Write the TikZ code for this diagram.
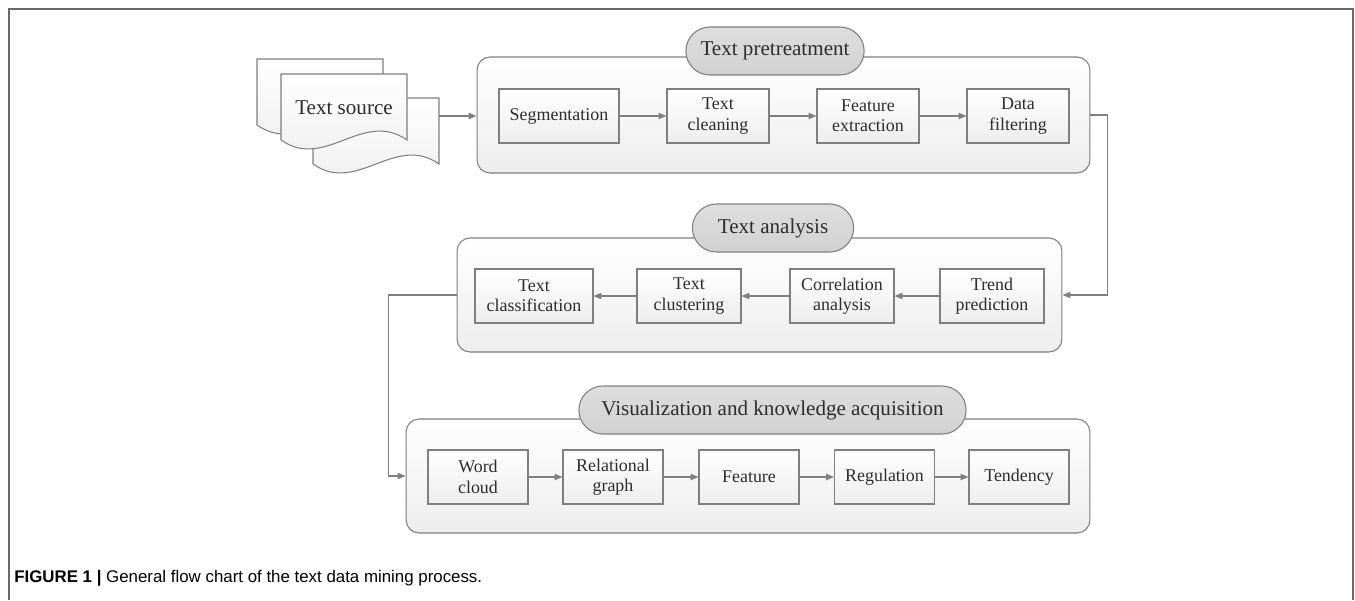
\documentclass[tikz,border=0pt]{standalone}
\usepackage{fontspec}
\setmainfont{Liberation Serif}
\newfontfamily\capfont{Liberation Sans}
\usetikzlibrary{arrows.meta,shapes.misc}
\definecolor{flgray}{RGB}{127,127,127}
\definecolor{flpill}{RGB}{216,216,216}
\definecolor{fltext}{RGB}{45,45,45}
\definecolor{flframe}{RGB}{105,105,105}

\begin{document}
\begin{tikzpicture}[x=0.02cm, y=-0.02cm,
  stepnode/.style={draw=flgray, line width=0.6pt, top color=white, bottom color=black!7, text=fltext, font=\fontsize{10.2}{11.6}\selectfont, align=center, minimum width=2cm, minimum height=1.08cm, inner sep=1pt},
  groupbox/.style={draw=flgray, line width=0.6pt, rounded corners=0.26cm, top color=white, bottom color=black!7, minimum height=2.28cm},
  titlepill/.style={rounded rectangle, draw=flgray, line width=0.6pt, top color=black!13, bottom color=black!18, text=fltext, font=\fontsize{12}{14}\selectfont, minimum height=0.96cm},
  docshape/.style={draw=flgray, line width=0.6pt, top color=white, bottom color=black!7},
  flowarrow/.style={draw=flgray, line width=0.6pt, -{Triangle[length=4.5pt,width=3.6pt]}}]
\useasboundingbox (0,0) rectangle (1355,600);
\draw[flframe, line width=1.1pt] (9,600) -- (9,9) -- (1353,9) -- (1353,600);
% Text source
\foreach \dx/\dy in {257/59,313/98,281/74} {
  \draw[docshape] (\dx,\dy+66) -- (\dx,\dy) -- (\dx+126,\dy) -- (\dx+126,\dy+66)
    .. controls (\dx+82,\dy+35) and (\dx+44,\dy+97) .. (\dx,\dy+66) -- cycle;
}
\node[font=\fontsize{12}{14}\selectfont, text=fltext] (src) at (344,108) {Text source};
\coordinate (srcR) at (439,116);
% Groups
\node[groupbox, minimum width=12.26cm, minimum height=2.32cm] (g1) at (783.5,115) {};
\node[groupbox, minimum width=12.1cm] (g2) at (759.5,295) {};
\node[groupbox, minimum width=13.68cm] (g3) at (748,476) {};
\node[titlepill, minimum width=3.8cm] (t1) at (775,51) {Text pretreatment};
\node[titlepill, minimum width=3.46cm] (t2) at (773,228) {Text analysis};
\node[titlepill, minimum width=7.98cm] (t3) at (772.5,410) {Visualization and knowledge acquisition};
% Text pretreatment
\node[stepnode, minimum width=2.4cm] (p1) at (559,116) {Segmentation};
\node[stepnode, minimum width=2.04cm] (p2) at (718,116) {Text\\cleaning};
\node[stepnode, minimum width=2.04cm] (p3) at (868,116) {Feature\\extraction};
\node[stepnode, minimum width=2.04cm] (p4) at (1018,116) {Data\\filtering};
% Text analysis
\node[stepnode, minimum width=2.36cm] (a1) at (534,296) {Text\\classification};
\node[stepnode, minimum width=2.08cm] (a2) at (689,296) {Text\\clustering};
\node[stepnode, minimum width=2.08cm] (a3) at (842,296) {Correlation\\analysis};
\node[stepnode, minimum width=2.08cm] (a4) at (992,296) {Trend\\prediction};
% Visualization and knowledge acquisition
\node[stepnode] (v1) at (478,477) {Word\\cloud};
\node[stepnode] (v2) at (613,477) {Relational\\graph};
\node[stepnode] (v3) at (749,477) {Feature};
\node[stepnode] (v4) at (884.5,477) {Regulation};
\node[stepnode] (v5) at (1019,477) {Tendency};
% Connections
\draw[flowarrow] (srcR) -- (srcR -| g1.west);
\foreach \a/\b in {p1/p2,p2/p3,p3/p4,a4/a3,a3/a2,a2/a1,v1/v2,v2/v3,v3/v4,v4/v5} {
  \draw[flowarrow] (\a) -- (\b);
}
\draw[flowarrow] (g1.east) -- ++(17,0) |- (g2.east);
\draw[flowarrow] (g2.west) -- ++(-68,0) |- (g3.west);
% Caption
\node[anchor=base west, font=\capfont\fontsize{9.6}{11}\selectfont, inner sep=0pt] (cap) at (14,582) {\textbf{FIGURE 1 |} General flow chart of the text data mining process.};
\end{tikzpicture}
\end{document}
